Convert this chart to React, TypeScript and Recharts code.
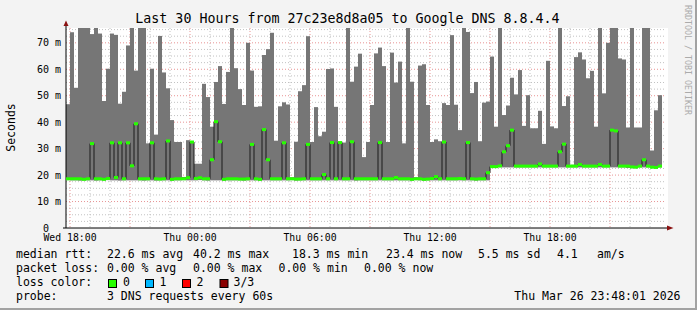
import { Bar, CartesianGrid, ComposedChart, Line, Scatter, XAxis, YAxis } from "recharts";

// one slot = 12 minutes, 30 hours from Wed 17:48
const MAX_MS = [
  46.8, 74, 53, 80, 80, 80, 73.3, 80, 73.5, 48,
  60.2, 73.5, 73, 47, 51.5, 69, 80, 59.5, 80, 80,
  32, 60.2, 35.3, 72.6, 58.8, 52.8, 40.8, 32.5, 32.5, 19.3,
  33.2, 32.8, 24.3, 24.3, 54.5, 49.5, 38.3, 55.2, 61.2, 46.9,
  59, 80, 60.4, 52.5, 46.5, 70, 59.5, 45.8, 46, 65.4,
  67.6, 73.8, 33, 46, 47.5, 46.7, 19.2, 32.6, 51.7, 54,
  72.5, 32.5, 45.7, 34.7, 36.4, 60.1, 60.3, 45.8, 32.5, 32.3,
  80, 55.3, 61, 65.9, 26.8, 32.5, 46.5, 66, 68.2, 61.2,
  32.5, 66.3, 55, 62.9, 32, 80, 55.3, 19.2, 61.4, 61.9,
  46.5, 32.5, 33.5, 32.8, 47.2, 46.5, 72.9, 46.6, 37, 80,
  74.1, 51, 55.2, 32.8, 47.4, 47.8, 64.8, 38.3, 80, 42.7,
  46.3, 56.8, 50.5, 59.7, 38.6, 50.2, 37.7, 37.7, 44.3, 31.8,
  63.2, 38.4, 37.7, 80, 46.1, 49.8, 23.9, 64.6, 66.4, 63.7,
  56.6, 59.4, 38.3, 80, 50.9, 70, 80, 80, 64.1, 63.7,
  38, 80, 38, 38, 80, 80, 29.3, 44.5, 50.2,
];

const MEDIAN_MS = [
  18.6, 18.6, 18.6, 18.6, 18.4, 18.6, 31.9, 18.6, 18.6, 18.4,
  18.7, 32.2, 19.1, 32.2, 18.6, 32.2, 23.5, 39.4, 18.6, 18.6,
  18.6, 32.2, 18.6, 18.5, 18.6, 32.9, 18.4, 18.6, 18.6, 18.6,
  19.0, 32.5, 18.7, 19.0, 18.6, 18.6, 25.8, 40.2, 32.6, 18.4,
  18.6, 18.6, 18.6, 18.5, 18.5, 18.6, 31.6, 18.6, 18.4, 37.2,
  25.8, 18.6, 18.6, 18.6, 32.2, 18.6, 18.6, 18.5, 18.5, 18.6,
  31.6, 18.6, 18.6, 18.6, 20.2, 18.6, 32.3, 18.6, 32.3, 18.6,
  18.6, 32.6, 18.6, 18.6, 18.6, 18.6, 18.6, 18.6, 32.3, 18.6,
  18.6, 18.6, 19.1, 18.6, 18.6, 18.6, 18.4, 18.6, 18.6, 18.4,
  18.5, 18.7, 19.4, 18.6, 32.5, 18.6, 18.6, 18.6, 18.7, 18.6,
  32.3, 18.6, 18.5, 18.6, 18.6, 20.9, 23.2, 23.2, 23.5, 28.8,
  31.1, 37.0, 23.4, 23.4, 23.4, 23.4, 23.4, 23.4, 24.2, 23.4,
  23.4, 23.4, 23.4, 28.8, 31.7, 23.4, 23.4, 23.4, 24.0, 23.4,
  23.4, 23.4, 23.4, 24.0, 23.4, 23.4, 37.0, 36.7, 23.4, 23.4,
  23.4, 23.1, 23.0, 23.4, 25.8, 23.4, 23.0, 22.9, 23.4,
];

const MIN_MS = [
  18.1, 18.0, 18.0, 17.9, 18.0, 18.0, 18.0, 17.9, 18.0, 18.0,
  18.1, 18.0, 18.0, 17.9, 18.0, 18.0, 18.0, 18.0, 18.0, 17.9,
  18.0, 18.0, 17.9, 18.0, 18.0, 18.0, 17.9, 18.0, 18.0, 18.1,
  18.0, 18.0, 18.0, 18.1, 18.0, 17.9, 18.0, 18.0, 18.0, 17.9,
  18.0, 18.0, 18.0, 18.0, 17.9, 18.0, 18.0, 18.0, 17.9, 18.0,
  18.0, 18.0, 18.0, 18.0, 18.0, 18.0, 18.1, 17.9, 18.0, 18.0,
  18.0, 18.0, 18.0, 18.0, 18.0, 18.0, 18.0, 18.0, 18.0, 18.0,
  18.0, 18.0, 17.9, 18.0, 18.0, 18.0, 18.0, 18.0, 18.0, 18.0,
  18.0, 18.0, 18.0, 18.0, 18.0, 18.0, 17.9, 18.1, 18.0, 17.9,
  18.0, 18.0, 18.0, 18.0, 18.0, 18.0, 18.0, 18.0, 18.0, 18.0,
  18.0, 18.0, 17.9, 18.0, 18.0, 18.0, 22.8, 22.8, 22.9, 22.9,
  22.9, 22.9, 22.9, 22.9, 22.9, 22.9, 22.9, 22.9, 22.9, 22.9,
  22.9, 22.9, 22.9, 22.9, 22.9, 22.9, 22.9, 22.9, 22.9, 22.9,
  22.9, 22.9, 22.9, 22.9, 22.9, 22.9, 22.9, 22.9, 22.9, 22.9,
  22.7, 22.6, 22.6, 22.9, 22.9, 22.9, 22.6, 22.5, 22.9,
];

const SLOT_HOURS = 0.2; // 12 min per slot
// hours since Wed 17:48
const TIME_TICKS = [0.2, 6.2, 12.2, 18.2, 24.2];
const TIME_LABELS = ["Wed 18:00", "Thu 00:00", "Thu 06:00", "Thu 12:00", "Thu 18:00"];
const HOUR_GRID = [1.2, 2.2, 4.2, 5.2, 7.2, 8.2, 10.2, 11.2, 13.2, 14.2, 16.2, 17.2, 19.2, 20.2, 22.2, 23.2, 25.2, 26.2, 28.2, 29.2];
const HOUR3_GRID = [0.2, 3.2, 6.2, 9.2, 12.2, 15.2, 18.2, 21.2, 24.2, 27.2];
const Y_TICKS = [0, 10, 20, 30, 40, 50, 60, 70];
const Y_MINOR = [2.5, 5, 7.5, 12.5, 15, 17.5, 22.5, 25, 27.5, 32.5, 35, 37.5, 42.5, 45, 47.5, 52.5, 55, 57.5, 62.5, 65, 67.5, 72.5, 75];
const Y_MAJOR = [10, 20, 30, 40, 50, 60, 70];

const RTT_STATS = ["22.6 ms avg", "40.2 ms max", "18.3 ms min", "23.4 ms now", "5.5 ms sd", "4.1", "am/s"];
const LOSS_STATS = ["0.00 % avg", "0.00 % max", "0.00 % min", "0.00 % now"];
const LOSS_KEYS = ["0", "1", "2", "3/3"];
const LOSS_COLORS = ["#26ff00", "#00b8ff", "#ff0000", "#8a0000"];

const MONO = "'DejaVu Sans Mono', monospace";

const rows: any[] = MAX_MS.map((max, i) => ({
  i,
  t: (i + 0.5) * SLOT_HOURS,
  smoke: [MIN_MS[i], max],
  median: MEDIAN_MS[i],
}));
rows.push({ i: MAX_MS.length, t: (MAX_MS.length + 0.5) * SLOT_HOURS, smoke: null, median: null });

const MedianTick = (p: any) => {
  if (p.cy == null || !Number.isFinite(p.cy)) return <g />;
  return <rect x={p.cx - 2} y={p.cy - 1.5} width={4} height={3} fill="#26ff00" />;
};

const YTick = ({ x, y, payload }: any) => (
  <text x={x} y={y} dy={3.6} textAnchor="end" fontFamily={MONO} fontSize={10} fill="#000" style={{ whiteSpace: "pre" }}>
    {payload.value === 0 ? "0  " : `${payload.value} m`}
  </text>
);

const XTick = ({ x, y, payload }: any) => (
  <text x={x} y={y + 7} textAnchor="middle" fontFamily={MONO} fontSize={9.8} fill="#000">
    {TIME_LABELS[TIME_TICKS.indexOf(payload.value)]}
  </text>
);

const rttX = [107, 193, 292, 386, 478, 557, 597];
const lossX = [107, 193, 278.5, 364];
const boxX = [108, 145, 182, 219.5];
const keyX = [123, 159.5, 196.5, 233.5];

export default function App() {
  return (
    <div style={{ position: "absolute", left: 0, top: 0, width: 697, height: 310 }}>
      <svg width={697} height={310} style={{ position: "absolute", left: 0, top: 0 }}>
        <rect width={697} height={310} fill="#f3f3f3" />
        <rect x={695} y={0} width={2} height={310} fill="#a2a2a2" />
        <rect x={0} y={308} width={697} height={2} fill="#a2a2a2" />
        <rect x={66} y={28} width={602} height={200} fill="#fff" />
        <text x={347.5} y={23} textAnchor="middle" fontFamily={MONO} fontSize={13.3} fill="#000">
          Last 30 Hours from 27c23e8d8a05 to Google DNS 8.8.4.4
        </text>
        <text x={14.5} y={127.5} textAnchor="middle" fontFamily={MONO} fontSize={11.5} fill="#000" transform="rotate(-90 14.5 127.5)">
          Seconds
        </text>
        <text x={685} y={5} fontFamily={MONO} fontSize={8.3} fill="#ababab" transform="rotate(90 685 5)">
          RRDTOOL / TOBI OETIKER
        </text>
        <g fontFamily={MONO} fontSize={11.5} fill="#000" style={{ whiteSpace: "pre" }}>
          <text x={16} y={258}>median rtt:</text>
          {RTT_STATS.map((s, i) => (
            <text key={s} x={rttX[i]} y={258}>{s}</text>
          ))}
          <text x={16} y={272}>packet loss:</text>
          {LOSS_STATS.map((s, i) => (
            <text key={s} x={lossX[i]} y={272}>{s}</text>
          ))}
          <text x={16} y={286}>loss color:</text>
          {LOSS_KEYS.map((k, i) => (
            <g key={k}>
              <rect x={boxX[i] + 0.5} y={279.5} width={8} height={8} fill={LOSS_COLORS[i]} stroke="#000" strokeWidth={1} />
              <text x={keyX[i]} y={286}>{k}</text>
            </g>
          ))}
          <text x={16} y={300}>probe:</text>
          <text x={107} y={300}>3 DNS requests every 60s</text>
          <text x={680.5} y={300} textAnchor="end">Thu Mar 26 23:48:01 2026</text>
        </g>
      </svg>
      <div style={{ position: "absolute", left: 0, top: 0 }}>
        <ComposedChart
          width={697}
          height={310}
          data={rows}
          margin={{ top: 28, right: 31, bottom: 52, left: 0 }}
          barCategoryGap={0}
          barGap={0}
        >
          <CartesianGrid xAxisId="time" yAxisId="ms" verticalValues={HOUR_GRID} horizontalValues={Y_MINOR} stroke="#c2c2c2" strokeDasharray="1 2" />
          <CartesianGrid xAxisId="time" yAxisId="ms" verticalValues={HOUR3_GRID} horizontalValues={Y_MAJOR} stroke="#e89494" strokeDasharray="1 2" />
          <XAxis
            xAxisId="time"
            dataKey="t"
            type="number"
            domain={[0, 30]}
            allowDataOverflow
            ticks={TIME_TICKS}
            interval={0}
            height={30}
            tickLine={false}
            tickSize={0}
            tickMargin={6}
            tick={<XTick />}
            axisLine={{ stroke: "#000" }}
          />
          <XAxis xAxisId="slot" dataKey="i" type="category" hide height={0} />
          <YAxis
            yAxisId="ms"
            domain={[0, 75.6]}
            allowDataOverflow
            ticks={Y_TICKS}
            interval={0}
            width={66}
            tickLine={false}
            tickSize={0}
            tickMargin={5}
            tick={<YTick />}
            axisLine={{ stroke: "#000" }}
          />
          <Bar xAxisId="slot" yAxisId="ms" dataKey="smoke" fill="#767676" isAnimationActive={false} />
          <Line xAxisId="slot" yAxisId="ms" type="step" dataKey="median" stroke="#1a1a1a" strokeWidth={1} dot={false} activeDot={false} isAnimationActive={false} />
          <Scatter xAxisId="slot" yAxisId="ms" dataKey="median" shape={MedianTick} isAnimationActive={false} />
        </ComposedChart>
      </div>
      <svg width={697} height={310} style={{ position: "absolute", left: 0, top: 0, pointerEvents: "none" }}>
        <line x1={66} y1={28} x2={66} y2={23} stroke="#000" />
        <polygon points="63.5,26 68.5,26 66,20.5" fill="#8a1010" />
        <line x1={63} y1={228} x2={66} y2={228} stroke="#000" />
        <line x1={666} y1={228} x2={668} y2={228} stroke="#000" />
        <polygon points="667,225.5 667,230.5 673.5,228" fill="#8a1010" />
      </svg>
    </div>
  );
}
